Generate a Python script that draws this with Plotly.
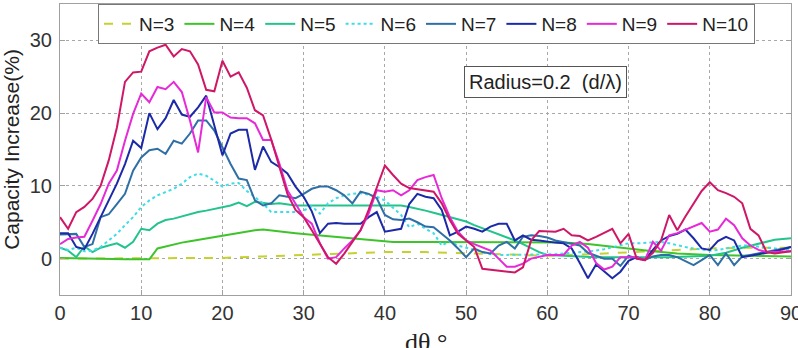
import plotly.graph_objects as go

theta = list(range(0, 91))

# N=3, N=4, N=5 sampled more sparsely (smooth curves)
theta_n3 = [0, 5, 10, 15, 20, 25, 30, 35, 40, 45, 50, 55, 60, 65, 70, 75, 80, 85, 90]
cap_n3 = [0.0, 0.0, 0.0, 0.05, 0.1, 0.3, 0.5, 0.8, 0.9, 0.9, 0.7, 0.5, 0.4, 0.6, 0.9, 1.2, 1.4, 1.5, 1.5]

theta_n4 = [0, 3, 5, 8, 11, 12, 13, 14, 15, 16, 17, 18, 19, 20, 21, 22, 23, 24, 25, 26, 27, 28, 29, 30,
            32, 35, 38, 41, 45, 50, 55, 60, 62, 65, 68, 70, 73, 76, 80, 85, 90]
cap_n4 = [0.1, 0.1, 0.0, -0.1, -0.1, 1.4, 1.7, 2.0, 2.2, 2.4, 2.6, 2.8, 3.0, 3.2, 3.4, 3.6, 3.8, 3.9, 4.0, 3.9, 3.8, 3.6, 3.5, 3.4,
          3.2, 2.9, 2.6, 2.3, 2.3, 2.3, 2.3, 2.3, 2.2, 2.0, 1.6, 1.3, 1.0, 0.7, 0.5, 0.4, 0.3]

theta_n5 = list(range(0, 31)) + [33, 36, 39, 42, 43, 44, 45, 46, 47, 48, 49, 50, 51, 52, 53, 54, 55, 56, 57, 58, 59, 60,
                                 63, 66, 70, 75, 80, 82, 84, 86, 88, 90]
cap_n5 = [1.5, 1.1, 0.2, 1.7, 0.9, 1.5, 1.8, 2.1, 1.5, 2.3, 4.1, 3.9, 4.8, 5.3, 5.5, 5.8, 6.2, 6.4, 6.6, 6.8,
          7.0, 7.3, 7.7, 7.2, 7.8, 7.6, 7.5, 7.6, 7.4, 7.3, 7.3,
          7.3, 7.3, 7.3, 7.3, 7.1, 6.9, 6.6, 6.3, 6.0, 5.7, 5.4, 5.1, 4.6, 4.2, 3.8, 3.4, 3.0, 2.5, 2.0, 1.4, 0.9, 0.5,
          0.3, 0.2, 0.2, 0.2, 0.4, 0.8, 1.5, 2.1, 2.6, 2.8]

cap_n6 = [1.5, 1.2, 1.5, 1.0, 1.1, 1.6, 2.5, 3.4, 4.6, 5.7, 7.1, 8.0, 8.7, 9.2, 9.6, 10.3, 11.2, 11.7, 11.4, 10.7,
          9.9, 10.3, 10.4, 9.3, 8.5, 7.6, 6.4, 6.4, 6.4, 6.4, 6.6, 7.2, 6.2, 7.6, 8.3, 8.7, 8.9, 9.0, 8.8, 8.5,
          8.0, 7.0, 6.0, 4.3, 4.8, 4.1, 3.5, 1.8, 2.4, 1.8, 1.5, 1.1, 0.9, 0.6, 0.5, 0.5, 0.5, 0.5, 0.5, 0.5,
          0.5, 0.6, 0.7, 0.8, 0.9, 1.0, 1.1, 1.3, 1.6, 1.9, 2.1, 2.1, 2.2, 2.2, 2.3, 2.1, 1.8, 1.6, 1.4, 1.2,
          1.1, 1.2, 1.4, 1.6, 1.8, 1.8, 1.6, 1.5, 1.4, 1.3, 1.2]

cap_n7 = [3.3, 3.3, 3.4, 1.6, 2.0, 5.7, 6.1, 7.5, 8.9, 12.1, 13.9, 14.9, 15.1, 14.4, 16.2, 15.8, 17.2, 19.0, 19.0, 17.6,
          15.3, 13.0, 11.0, 10.8, 8.0, 7.3, 7.6, 8.7, 8.5, 8.3, 8.9, 9.6, 9.9, 9.9, 9.4, 8.7, 7.6, 9.2, 8.9, 8.3,
          6.0, 5.4, 5.3, 5.5, 5.0, 4.4, 4.3, 3.4, 2.5, 1.4, 0.2, 1.4, 0.9, 0.7, 1.8, 2.3, 1.4, 3.0, 3.2, 3.1,
          2.9, 2.5, 2.3, 2.0, 1.8, 0.8, 0.4, 0.0, 0.0, -1.0, 0.4, 0.0, -0.2, 0.3, 0.5, 0.5, 0.2, -0.3, -0.9, -0.2,
          0.5, -0.9, 0.7, -0.9, 0.3, 0.5, 0.7, 1.0, 1.2, 1.4, 1.6]

cap_n8 = [3.5, 3.5, 1.6, 1.3, 3.4, 5.7, 8.0, 10.3, 13.0, 16.2, 15.2, 20.0, 17.8, 19.3, 21.8, 19.8, 19.5, 20.8, 22.4, 18.1,
          14.2, 17.2, 17.7, 17.7, 12.2, 15.4, 13.3, 12.6, 11.7, 9.9, 8.5, 6.5, 3.5, 4.8, 4.9, 4.8, 4.8, 4.8, 5.7, 6.4,
          3.7, 3.9, 4.1, 7.5, 8.9, 8.5, 8.3, 6.7, 3.2, 3.7, 4.4, 4.1, 3.7, 4.4, 4.8, 4.8, 2.5, 3.2, 2.6, 2.5,
          2.3, 2.2, 2.1, 1.4, -0.6, -2.7, -0.8, -1.8, -2.7, -1.8, -0.3, 0.2, -0.2, 1.2, 2.5, 3.1, 3.4, 4.0, 2.8, 1.4,
          1.2, 2.4, 3.0, 2.5, 0.2, 0.4, 0.6, 0.7, 1.0, 1.3, 1.6]

cap_n9 = [2.0, 2.7, 2.9, 3.0, 5.2, 7.5, 10.3, 12.1, 16.2, 19.9, 22.7, 21.5, 23.6, 23.3, 24.3, 22.9, 19.0, 14.6, 22.2, 20.1,
          20.1, 19.4, 19.3, 19.3, 18.6, 16.3, 16.3, 13.1, 9.4, 7.6, 5.7, 4.8, 2.1, 0.0, 0.2, 1.4, 2.5, 3.9, 6.2, 9.4,
          9.2, 9.4, 8.7, 9.4, 10.8, 11.2, 11.5, 8.3, 5.7, 3.7, 2.5, 2.0, 1.6, 1.1, 0.0, -1.1, -1.1, -0.7, 0.0, 0.3,
          0.5, 0.5, 0.5, 1.8, 2.3, 1.5, -0.6, -1.5, -1.1, 0.2, 0.2, 0.2, -0.2, 2.3, 1.1, 3.2, 3.5, 4.0, 4.5, 4.9,
          3.7, 4.0, 5.5, 4.6, 2.8, 1.8, 1.2, 0.9, 0.9, 0.9, 1.0]

cap_n10 = [5.7, 4.1, 6.4, 7.1, 8.2, 10.0, 13.5, 18.0, 24.3, 25.6, 25.7, 28.5, 29.0, 29.4, 27.8, 28.8, 28.5, 26.7, 23.2, 23.0,
           27.2, 25.0, 25.6, 23.5, 20.4, 19.7, 16.4, 12.6, 8.9, 6.7, 5.7, 3.9, 2.1, 0.2, -0.7, 0.7, 2.3, 3.9, 6.7, 9.9,
           12.8, 11.5, 10.3, 9.7, 9.5, 9.4, 9.2, 7.6, 5.3, 3.4, 2.5, 1.6, -1.4, -1.5, -1.6, -1.8, -1.9, -1.2, 2.5, 3.8,
           3.7, 3.7, 4.1, 3.2, 3.1, 2.5, 3.0, 3.6, 4.1, 2.1, 3.4, 0.0, -0.2, 0.8, 2.5, 6.0, 3.9, 5.8, 7.6, 9.3,
           10.5, 9.4, 9.0, 8.5, 7.6, 4.1, 3.2, 0.9, 0.7, 0.8, 1.0]

series = [
    ("N=3", theta_n3, cap_n3, "#c5d12e", "dash"),
    ("N=4", theta_n4, cap_n4, "#3ec42a", "solid"),
    ("N=5", theta_n5, cap_n5, "#22c48c", "solid"),
    ("N=6", theta, cap_n6, "#3ddde6", "dot"),
    ("N=7", theta, cap_n7, "#2f6fa5", "solid"),
    ("N=8", theta, cap_n8, "#1c2aa8", "solid"),
    ("N=9", theta, cap_n9, "#e62ad8", "solid"),
    ("N=10", theta, cap_n10, "#cf1767", "solid"),
]

fig = go.Figure()
for name, xs, ys, color, dash in series:
    fig.add_trace(go.Scatter(x=xs, y=ys, mode="lines", name=name,
                             line=dict(color=color, width=2, dash=dash)))

font_family = "Arial, Liberation Sans, sans-serif"
axis_common = dict(
    showline=True, linecolor="#a0a0a0", linewidth=1, mirror="ticks",
    ticks="inside", ticklen=5, tickcolor="#a0a0a0",
    showgrid=True, gridcolor="#a8a8a8", griddash="dot", gridwidth=1,
    zeroline=False, automargin=False,
    tickfont=dict(family=font_family, size=20, color="#333333"),
)

fig.update_layout(
    width=798, height=348,
    margin=dict(l=60, r=7, t=4, b=53),
    paper_bgcolor="white", plot_bgcolor="white",
    showlegend=True,
    legend=dict(orientation="h", x=0.052, y=1.0, xanchor="left", yanchor="top",
                bgcolor="white", bordercolor="#777777", borderwidth=1,
                font=dict(family=font_family, size=19, color="#222222"),
                tracegroupgap=0),
    xaxis=dict(range=[0, 90], tickvals=[0, 10, 20, 30, 40, 50, 60, 70, 80, 90],
               ticklabeloverflow="allow",
               **axis_common),
    yaxis=dict(range=[-5, 35], tickvals=[0, 10, 20, 30],
               title=dict(text="Capacity Increase(%)", font=dict(family=font_family, size=21, color="#222222"),
                          standoff=4),
               ticklabelstandoff=3,
               **axis_common),
    annotations=[
        dict(x=59.8, y=24.3, xref="x", yref="y", text="Radius=0.2  (d/λ)",
             showarrow=False, font=dict(family=font_family, size=20, color="#222222"),
             bgcolor="white", bordercolor="#555555", borderwidth=1, borderpad=4),
        dict(x=0.5, y=-0.108, xref="paper", yref="paper", xanchor="center", yanchor="top",
             text="dθ °", showarrow=False,
             font=dict(family="Liberation Serif, Times New Roman, serif", size=26, color="#222222")),
    ],
)

fig.write_html("out.html")
